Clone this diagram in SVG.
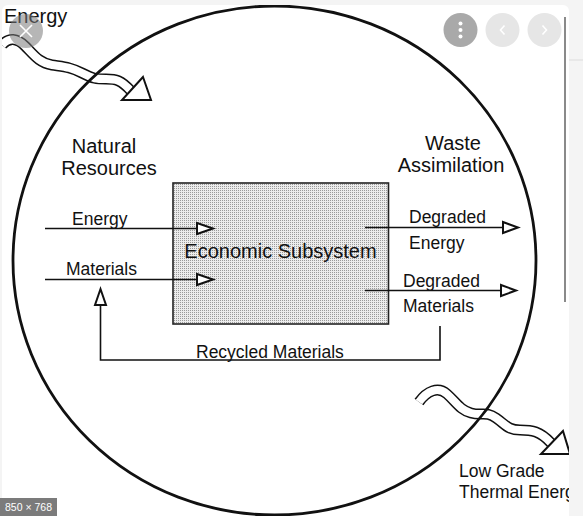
<svg xmlns="http://www.w3.org/2000/svg" width="583" height="516" viewBox="0 0 583 516">
<defs>
<style>
.t{font-family:"Liberation Sans",Arial,sans-serif;fill:#111}
.big{font-size:20px}
.sm{font-size:17.5px}
.ln{stroke:#111;stroke-width:1.6;fill:none}
.head{fill:#fff;stroke:#111;stroke-width:2;stroke-linejoin:miter}
.wave1{fill:none;stroke:#111;stroke-width:11;stroke-linecap:butt;stroke-linejoin:round}
.wave2{fill:none;stroke:#fff;stroke-width:8;stroke-linecap:butt;stroke-linejoin:round}
.ui{font-family:"Liberation Sans",Arial,sans-serif;fill:#fff}
</style>
<pattern id="stip" width="2" height="2" patternUnits="userSpaceOnUse">
<rect width="2" height="2" fill="#ececec"/>
<rect width="1" height="1" fill="#9a9a9a"/>
</pattern>
<clipPath id="card"><rect x="2" y="5" width="567" height="520" rx="6"/></clipPath>
</defs>
<rect width="583" height="516" fill="#f4f4f4"/>
<line x1="569" y1="60" x2="583" y2="60" stroke="#dcdcdc" stroke-width="1"/>
<rect x="2" y="5" width="567" height="520" rx="6" fill="#fff"/>
<g clip-path="url(#card)">
<g id="energy-in">
<path class="wave1" d="M2,45 C9,37 17,38 25,46 S39,63 52,65 S70,67 82,73 S96,79 106,79 S121,80 131,91"/>
<path class="wave2" d="M2,45 C9,37 17,38 25,46 S39,63 52,65 S70,67 82,73 S96,79 106,79 S121,80 131,91"/>
<polygon class="head" points="143,77 151,100 122,100"/>
</g>
<g id="thermal-out">
<path class="wave1" d="M419,402 C427,391 438,386 447,394 S460,410 471,413 S486,411 496,418 S508,430 520,430 S540,431 551,443"/>
<path class="wave2" d="M419,402 C427,391 438,386 447,394 S460,410 471,413 S486,411 496,418 S508,430 520,430 S540,431 551,443"/>
<polygon class="head" points="563,431 570,454 541,454"/>
</g>
<g id="ecosystem">
<ellipse cx="274.5" cy="260.5" rx="261.5" ry="254.5" fill="none" stroke="#111" stroke-width="2.8"/>
</g>
<g id="economic-subsystem">
<rect x="173" y="183" width="215.5" height="141" fill="url(#stip)" stroke="#222" stroke-width="1.6"/>
<text class="t big" x="280.5" y="258" text-anchor="middle">Economic Subsystem</text>
</g>
<g id="connectors">
<line class="ln" x1="45" y1="228.5" x2="197" y2="228.5"/>
<polygon class="head" points="197,223 213,228.5 197,234"/>
<line class="ln" x1="45" y1="279.5" x2="197" y2="279.5"/>
<polygon class="head" points="197,274 213,279.5 197,285"/>
<line class="ln" x1="365" y1="227.5" x2="503" y2="227.5"/>
<polygon class="head" points="503,222 518,227.5 503,233"/>
<line class="ln" x1="365" y1="290.5" x2="501" y2="290.5"/>
<polygon class="head" points="501,285 516,290.5 501,296"/>
<polyline class="ln" points="440,326 440,360 100.5,360 100.5,305"/>
<polygon class="head" points="100.5,289 106,305 95,305"/>
</g>
<g id="labels">
<text class="t big" x="4" y="23">Energy</text>
<text class="t big" x="104" y="153" text-anchor="middle">Natural</text>
<text class="t big" x="109" y="175" text-anchor="middle">Resources</text>
<text class="t big" x="453" y="150" text-anchor="middle">Waste</text>
<text class="t big" x="451" y="172" text-anchor="middle">Assimilation</text>
<text class="t sm" x="72" y="225">Energy</text>
<text class="t sm" x="66" y="275">Materials</text>
<text class="t sm" x="409" y="223">Degraded</text>
<text class="t sm" x="409" y="249">Energy</text>
<text class="t sm" x="403" y="287">Degraded</text>
<text class="t sm" x="403" y="312">Materials</text>
<text class="t sm" x="196" y="358">Recycled Materials</text>
<text class="t sm" x="459" y="477">Low Grade</text>
<text class="t sm" x="459" y="498">Thermal Energy</text>
</g>
</g>
<line x1="565" y1="17" x2="565" y2="302" stroke="#8a8a8a" stroke-width="2"/>
<g id="ui">
<circle cx="26" cy="31" r="17" fill="#7a7a7a" fill-opacity="0.55"/>
<path d="M20,25 L32,37 M32,25 L20,37" stroke="#fff" stroke-width="1.6"/>
<circle cx="460.5" cy="30" r="17" fill="#a9a9a9"/>
<circle cx="460.5" cy="23.5" r="2" fill="#fff"/>
<circle cx="460.5" cy="30" r="2" fill="#fff"/>
<circle cx="460.5" cy="36.5" r="2" fill="#fff"/>
<circle cx="502.5" cy="30" r="17" fill="#e6e6e6"/>
<path d="M504.5,25.5 L500.5,30 L504.5,34.5" stroke="#fff" stroke-width="1.6" fill="none"/>
<circle cx="544.5" cy="30" r="17" fill="#e6e6e6"/>
<path d="M542.5,25.5 L546.5,30 L542.5,34.5" stroke="#fff" stroke-width="1.6" fill="none"/>
<rect x="0" y="498" width="57" height="18" fill="#7b7b7b"/>
<text class="ui" x="5" y="511" font-size="10.5">850 × 768</text>
</g>
</svg>
